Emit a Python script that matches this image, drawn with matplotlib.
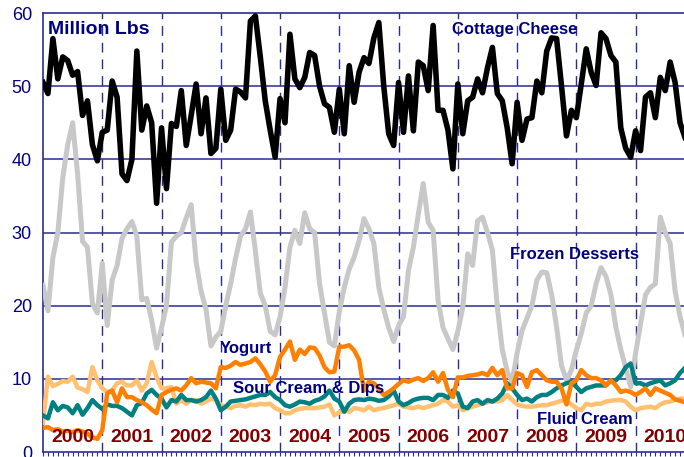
import matplotlib
matplotlib.use("Agg")
import matplotlib.pyplot as plt
import numpy as np

# monthly values, Jan 2000 .. Nov 2010 (million lbs)
cottage_cheese = [
    50.5, 49.0, 56.5, 51.0, 54.0, 53.5, 51.5, 52.0, 46.0, 48.0, 42.0, 39.8,
    43.7, 44.0, 50.7, 48.5, 38.0, 37.1, 40.0, 54.8, 44.0, 47.3, 45.0, 34.0,
    44.3, 36.0, 44.9, 44.5, 49.4, 41.9, 46.0, 50.3, 43.5, 48.4, 40.8, 41.5,
    49.6, 42.6, 44.0, 49.6, 49.2, 48.4, 58.9, 59.6, 54.0, 48.0, 44.0, 40.3,
    48.3, 45.0, 57.1, 51.0, 49.8, 51.2, 54.6, 54.2, 50.0, 47.6, 47.1, 43.7,
    49.6, 43.5, 52.8, 47.8, 51.9, 53.9, 53.1, 56.6, 58.7, 50.0, 43.5, 41.9,
    50.5, 43.7, 51.4, 43.9, 53.3, 52.8, 49.4, 58.3, 46.7, 46.7, 44.0, 38.7,
    50.3, 43.5, 48.0, 48.5, 51.0, 49.1, 52.5, 55.3, 49.0, 48.0, 44.3, 39.4,
    47.8, 42.6, 45.5, 45.7, 50.7, 49.1, 54.8, 56.6, 56.5, 50.0, 43.2, 46.7,
    45.7, 50.3, 55.1, 51.9, 50.1, 57.3, 56.5, 54.2, 53.3, 44.3, 41.5, 40.3,
    43.9, 41.2, 48.5, 49.1, 45.7, 51.2, 49.4, 53.3, 50.5, 45.0, 43.0,
]
frozen_desserts = [
    22.8, 19.3, 26.6, 30.0, 37.5, 42.0, 45.0, 38.0, 28.8, 28.0, 20.3, 19.0,
    25.8, 17.3, 23.5, 25.5, 29.2, 30.5, 31.5, 29.5, 20.8, 21.0, 18.0, 14.2,
    17.0, 20.0, 28.7, 29.5, 30.0, 32.0, 33.8, 26.0, 22.0, 19.5, 14.5, 15.7,
    16.5, 20.0, 23.0, 26.5, 29.5, 30.5, 32.8, 27.5, 21.7, 20.0, 16.5, 16.0,
    18.5, 22.5, 28.0, 30.3, 28.5, 32.7, 30.5, 30.0, 23.0, 19.0, 15.0, 14.5,
    19.2, 22.5, 25.0, 26.6, 28.9, 31.9, 30.5, 28.5, 22.5, 19.5, 17.0, 15.1,
    17.3, 18.5, 24.8, 28.0, 32.5, 36.7, 31.4, 30.3, 20.7, 17.0, 15.5, 14.0,
    16.5, 19.8, 27.1, 25.5, 31.6, 32.1, 30.0, 27.6, 19.8, 14.0, 11.0, 9.6,
    13.5, 16.6, 18.3, 20.0, 23.5, 24.6, 24.5, 21.5, 17.1, 11.8, 9.8, 11.2,
    13.9, 16.2, 19.0, 20.0, 23.0, 25.2, 24.0, 21.5, 17.1, 14.0, 11.5, 8.9,
    13.5, 17.5, 21.5, 22.5, 23.0, 32.1, 30.0, 28.5, 22.0, 18.5, 16.0,
]
yogurt = [
    3.3, 3.4, 3.0, 3.1, 2.8, 2.9, 2.7, 3.0, 2.8, 2.5, 2.0, 1.8,
    3.0, 8.0, 8.4, 6.8, 8.7, 7.5, 7.5, 7.1, 6.8, 6.4, 5.8, 5.3,
    7.8, 8.2, 8.5, 8.7, 8.4, 9.1, 10.1, 9.4, 9.6, 9.5, 9.4, 8.7,
    11.6, 11.5, 11.8, 12.3, 11.9, 12.1, 12.3, 12.8, 12.0, 11.0, 9.6, 10.5,
    13.0, 14.0, 15.1, 12.6, 14.0, 13.4, 14.3, 14.2, 13.2, 11.6, 10.9, 11.0,
    14.4, 14.4, 14.6, 13.9, 12.6, 8.4, 9.6, 9.4, 8.6, 7.8, 8.2, 8.7,
    9.3, 9.8, 9.6, 9.9, 10.1, 9.7, 10.1, 10.9, 9.6, 10.8, 8.5, 7.5,
    10.2, 10.2, 10.4, 10.5, 10.6, 10.8, 10.5, 11.5, 10.5, 11.2, 8.7, 8.7,
    10.8, 10.5, 8.9, 10.9, 11.2, 10.5, 9.8, 9.6, 9.6, 8.7, 6.5, 9.4,
    9.8, 11.2, 10.5, 10.1, 10.1, 9.8, 9.1, 9.8, 9.1, 8.2, 8.4, 8.2,
    7.8, 8.2, 8.7, 7.8, 8.7, 8.4, 8.1, 7.8, 7.2, 7.0, 6.8,
]
sour_cream_dips = [
    5.0, 4.6, 6.8, 5.7, 6.3, 6.1, 5.3, 6.4, 5.1, 6.0, 7.1, 6.4,
    5.9, 6.5, 6.3, 6.3, 6.0, 5.5, 5.0, 6.4, 6.7, 8.0, 8.5, 7.8,
    7.3, 6.1, 7.1, 6.9, 7.8, 7.1, 7.1, 6.9, 7.1, 7.5, 8.4, 7.3,
    5.7, 6.2, 6.9, 7.0, 7.1, 7.2, 7.4, 7.6, 7.8, 7.8, 8.2, 7.5,
    7.1, 6.4, 6.2, 6.5, 6.9, 6.8, 6.6, 7.0, 7.2, 7.6, 8.4, 7.3,
    6.9, 5.5, 6.6, 7.1, 7.2, 7.1, 7.3, 7.2, 7.0, 7.1, 7.6, 8.4,
    6.9, 6.4, 6.7, 7.1, 7.3, 7.4, 7.4, 7.1, 7.8, 7.8, 7.4, 8.4,
    8.0, 6.2, 6.0, 6.9, 7.1, 6.6, 7.1, 6.9, 7.3, 8.0, 9.4, 8.7,
    7.8, 7.1, 7.3, 6.9, 7.5, 7.8, 7.8, 8.2, 8.7, 9.1, 9.4, 9.6,
    8.9, 8.2, 8.7, 8.9, 9.1, 9.1, 9.1, 9.8, 9.8, 10.5, 11.6, 12.1,
    9.4, 9.4, 9.1, 9.4, 9.6, 9.8, 9.1, 9.4, 9.8, 10.8, 11.5,
]
fluid_cream = [
    4.0, 10.3, 9.0, 9.3, 9.7, 9.6, 10.3, 8.8, 8.6, 8.2, 11.6, 9.8,
    8.7, 8.2, 8.4, 9.4, 9.6, 9.1, 9.1, 9.8, 8.4, 9.4, 12.3, 10.2,
    8.7, 8.7, 8.9, 6.6, 7.1, 6.6, 7.1, 7.1, 6.6, 6.9, 7.3, 7.1,
    6.4, 6.2, 6.0, 6.3, 6.4, 6.2, 6.5, 6.4, 6.6, 6.5, 6.6, 6.0,
    5.7, 5.3, 5.3, 5.7, 5.9, 6.0, 6.0, 6.0, 6.1, 6.2, 6.5, 5.0,
    5.4, 5.7, 5.5, 6.0, 5.9, 5.7, 6.2, 5.7, 5.9, 6.0, 6.2, 6.4,
    6.6, 6.2, 6.1, 6.0, 6.2, 6.0, 6.2, 6.4, 6.6, 7.1, 6.9, 6.2,
    6.4, 5.7, 6.0, 6.2, 6.4, 6.6, 6.8, 6.9, 6.9, 7.1, 7.8, 7.1,
    6.5, 6.3, 6.2, 6.2, 6.3, 6.4, 6.4, 6.6, 6.8, 7.0, 7.0, 6.5,
    6.0, 5.7, 6.6, 6.4, 6.6, 6.6, 6.9, 7.0, 7.1, 7.1, 6.9, 6.2,
    5.7, 6.0, 6.1, 6.2, 6.0, 6.5, 6.8, 6.9, 7.1, 7.3, 7.3,
]
years = [str(y) for y in range(2000, 2011)]

navy = "#000080"
grid_col = "#2b2b95"
plt.rcParams["font.family"] = ["Liberation Sans", "DejaVu Sans"]

months = np.arange(len(cottage_cheese))

fig = plt.figure(figsize=(6.84, 4.57), dpi=100)
ax = fig.add_axes([0.0629, 0.0109, 0.9371, 0.9606])

ax.plot(months, frozen_desserts, color="#c8c8c8", lw=3.6, solid_joinstyle="round", zorder=3)
ax.plot(months, fluid_cream, color="#ffc070", lw=3.2, solid_joinstyle="round", zorder=4)
ax.plot(months, sour_cream_dips, color="#008080", lw=3.2, solid_joinstyle="round", zorder=5)
ax.plot(months, yogurt, color="#ff8000", lw=3.2, solid_joinstyle="round", zorder=6)
ax.plot(months, cottage_cheese, color="black", lw=4.0, solid_joinstyle="round", zorder=7)

ax.set_xlim(0, 129.8)
ax.set_ylim(0, 60)

# gridlines
for v in range(10, 60, 10):
    ax.axhline(v, color=grid_col, lw=1.1, zorder=1)
for k in range(1, 11):
    ax.axvline(12 * k, color=grid_col, lw=1.0, ls=(0, (7, 5)), zorder=1)

for side in ["right"]:
    ax.spines[side].set_visible(False)
for side in ["left", "bottom", "top"]:
    ax.spines[side].set_color(grid_col)
    ax.spines[side].set_linewidth(1.2)

ax.set_yticks(range(0, 61, 10))
ax.tick_params(axis="y", length=0, pad=8, labelsize=13, labelcolor=navy)
ax.set_xticks(np.arange(0, 130))
ax.set_xticklabels([])
ax.tick_params(axis="x", direction="out", length=3, width=0.8, color=grid_col)

# year labels
for i, yr in enumerate(years):
    ax.text(12 * i + 6, 2.0, yr, ha="center", va="center", fontsize=14,
            fontweight="bold", color="#800000", zorder=8)

# series labels
lab = dict(fontweight="bold", color=navy, va="center", ha="left", zorder=9)
ax.text(1.0, 57.8, "Million Lbs", fontsize=14, **lab)
ax.text(82.8, 57.8, "Cottage Cheese", fontsize=12, **lab)
ax.text(94.5, 27.0, "Frozen Desserts", fontsize=12, **lab)
ax.text(35.8, 14.2, "Yogurt", fontsize=12, **lab)
ax.text(38.5, 8.7, "Sour Cream & Dips", fontsize=12, **lab)
ax.text(100.0, 4.4, "Fluid Cream", fontsize=12, **lab)

fig.savefig("out.png", dpi=100)
